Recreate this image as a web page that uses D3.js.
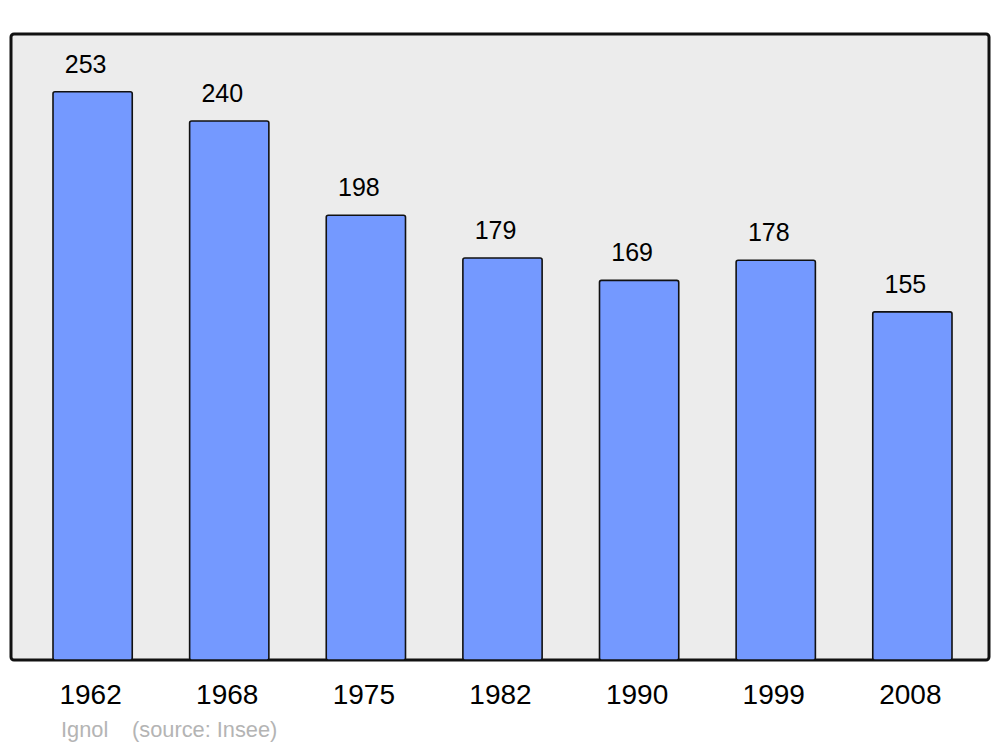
<!DOCTYPE html>
<html>
    <head>
        <style>
            body { margin: 0; background: white; }
            text { font-family: "Liberation Sans", Arial, sans-serif; fill: black; }
            rect.panel { fill: #ececec; stroke: #111; stroke-width: 3; }
            rect.bar { fill: #7499ff; stroke: #111; stroke-width: 1.6; }
            text.value { font-size: 25px; text-anchor: middle; }
            text.year { font-size: 28px; text-anchor: middle; }
            text.credit { font-size: 21.8px; fill: #b4b4b4; }
        </style>
        <script src="https://cdn.jsdelivr.net/npm/d3@7"></script>
    </head>
    <body>
        <div id="chart"></div>
        <script>
            var width = 1000;
            var height = 747;

            // population by census year
            var years = ["1962", "1968", "1975", "1982", "1990", "1999", "2008"];
            var population = [253, 240, 198, 179, 169, 178, 155];

            var panel_left = 11, panel_right = 989;
            var panel_top = 34, panel_bottom = 660;

            var svg = d3.select("#chart").append("svg")
                        .attr("width", width)
                        .attr("height", height);

            var x = d3.scaleBand()
                      .domain(years)
                      .range([53, 952])
                      .paddingInner(0.42)
                      .paddingOuter(0);

            var y = d3.scaleLinear()
                      .domain([0, 278.7])
                      .range([panel_bottom, panel_top]);

            svg.append("rect").attr("class", "panel")
               .attr("x", panel_left).attr("y", panel_top)
               .attr("width", panel_right - panel_left)
               .attr("height", panel_bottom - panel_top)
               .attr("rx", 3);

            var data = years.map(function(d, i) { return { year: d, value: population[i] }; });

            svg.selectAll("rect.bar").data(data).enter().append("rect")
               .attr("class", "bar")
               .attr("x", function(d) { return x(d.year); })
               .attr("y", function(d) { return y(d.value); })
               .attr("width", x.bandwidth())
               .attr("height", function(d) { return y(0) - y(d.value); })
               .attr("rx", 2);

            svg.selectAll("text.value").data(data).enter().append("text")
               .attr("class", "value")
               .attr("x", function(d) { return x(d.year) + x.bandwidth() / 2 - 7; })
               .attr("y", function(d) { return y(d.value) - 19; })
               .text(function(d) { return d.value; });

            svg.selectAll("text.year").data(data).enter().append("text")
               .attr("class", "year")
               .attr("x", function(d) { return x(d.year) + x.bandwidth() / 2 - 2; })
               .attr("y", 704)
               .text(function(d) { return d.year; });

            svg.append("text").attr("class", "credit")
               .attr("x", 61).attr("y", 737).text("Ignol");
            svg.append("text").attr("class", "credit")
               .attr("x", 132).attr("y", 737).text("(source: Insee)");
        </script>
    </body>
</html>
